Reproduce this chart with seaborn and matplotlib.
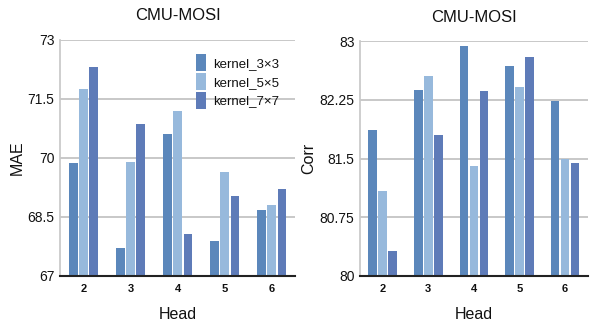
import numpy as np
import pandas as pd
import matplotlib
matplotlib.use("Agg")
import matplotlib.pyplot as plt
import seaborn as sns

heads = ["2", "3", "4", "5", "6"]
kernels = ["kernel_3×3", "kernel_5×5", "kernel_7×7"]
mae_3 = [69.87, 67.71, 70.61, 67.89, 68.68]
mae_5 = [71.75, 69.90, 71.20, 69.64, 68.80]
mae_7 = [72.31, 70.86, 68.07, 69.03, 69.21]
corr_3 = [81.86, 82.38, 82.94, 82.68, 82.24]
corr_5 = [81.08, 82.55, 81.41, 82.42, 81.50]
corr_7 = [80.32, 81.80, 82.36, 82.80, 81.45]
colors = ["#5b87bb", "#97b9dc", "#5e7bb8"]

sns.set_theme(style="white")
plt.rcParams['font.family'] = ['Liberation Sans', 'DejaVu Sans']
plt.rcParams['text.color'] = '#111111'
plt.rcParams['axes.labelcolor'] = '#111111'
plt.rcParams['xtick.color'] = '#111111'
plt.rcParams['ytick.color'] = '#111111'

def long_df(a, b, c):
    rows = []
    for k, vals in zip(kernels, [a, b, c]):
        for h, v in zip(heads, vals):
            rows.append({"Head": h, "kernel": k, "value": v})
    return pd.DataFrame(rows)

fig = plt.figure(figsize=(5.95, 3.27), dpi=100)
ax1 = fig.add_axes([0.101, 0.156, 0.395, 0.722])
ax2 = fig.add_axes([0.605, 0.156, 0.383, 0.718])

specs = [
    (ax1, long_df(mae_3, mae_5, mae_7), "MAE", (67, 73), [67, 68.5, 70, 71.5, 73], ["67", "68.5", "70", "71.5", "73"]),
    (ax2, long_df(corr_3, corr_5, corr_7), "Corr", (80, 83), [80, 80.75, 81.5, 82.25, 83], ["80", "80.75", "81.5", "82.25", "83"]),
]

for i, (ax, df, ylab, ylim, yt, ytl) in enumerate(specs):
    sns.barplot(data=df, x="Head", y="value", hue="kernel", palette=colors,
                width=0.66, gap=0.14, ax=ax, legend=(i == 0), saturation=1,
                linewidth=0)
    ax.set_ylim(*ylim)
    ax.set_xlim(-0.5, 4.5)
    ax.set_yticks(yt)
    ax.set_yticklabels(ytl, fontsize=10)
    ax.set_axisbelow(True)
    ax.yaxis.grid(True, color="#c8c8c8", lw=1.4)
    for s in ["top", "right"]:
        ax.spines[s].set_visible(False)
    ax.spines["left"].set_color("#c8c8c8")
    ax.spines["bottom"].set_color("#222222")
    ax.spines["bottom"].set_linewidth(1.5)
    ax.tick_params(axis="x", length=0, pad=6)
    ax.tick_params(axis="y", length=0, pad=4)
    for lbl in ax.get_xticklabels():
        lbl.set_fontweight("bold")
        lbl.set_fontsize(8)
    ax.set_xlabel("Head", fontsize=11.5, labelpad=9)
    ax.set_ylabel(ylab, fontsize=11.5, labelpad=2)
    ax.set_title("CMU-MOSI", fontsize=12, pad=14)

leg = ax1.legend(loc="upper right", bbox_to_anchor=(0.97, 0.98), frameon=False,
                 fontsize=9.5, handlelength=0.8, handleheight=1.6,
                 handletextpad=0.5, labelspacing=0.15, borderaxespad=0.3)

fig.savefig("out.png", dpi=100)
